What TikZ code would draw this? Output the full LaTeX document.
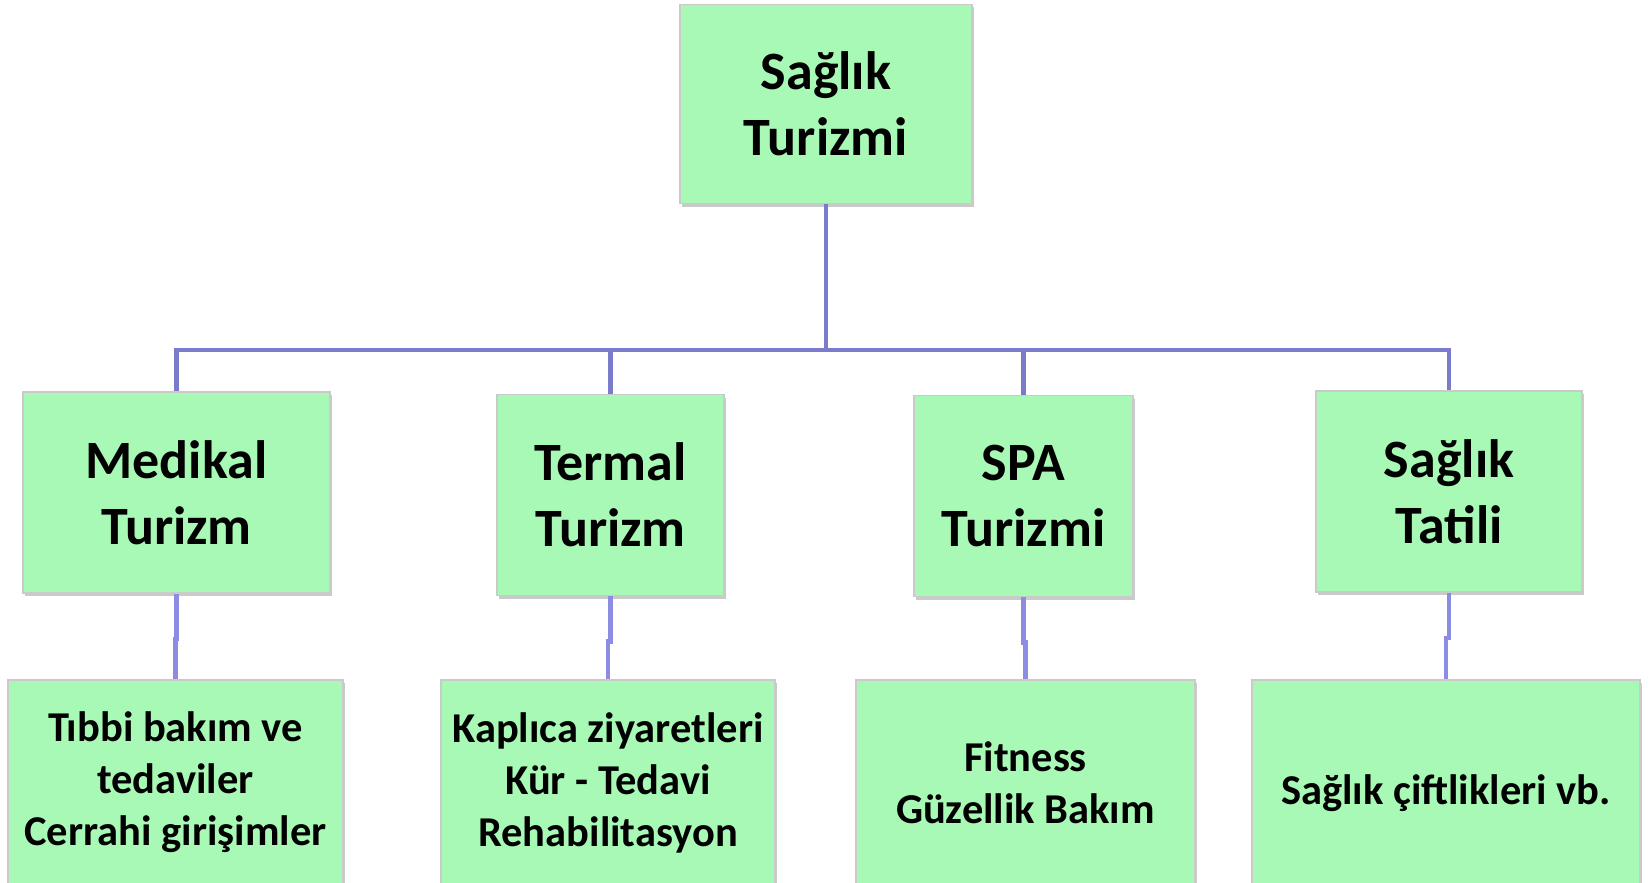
\documentclass[tikz,border=0pt]{standalone}
\usepackage{fontspec}
\setmainfont{Carlito}
\usetikzlibrary{shadows}
\definecolor{BoxGreen}{HTML}{A9F9B6}
\definecolor{BoxEdge}{HTML}{CACACA}
\definecolor{LinkBlue}{HTML}{7B7BCB}
\definecolor{LinkLight}{HTML}{8C8CE3}
\tikzset{
	box/.style={draw=BoxEdge, line width=1.5pt, fill=BoxGreen, align=center, inner sep=0pt,
		font=\fontsize{54}{66}\selectfont\bfseries,
		drop shadow={shadow xshift=2pt, shadow yshift=-3pt, opacity=0.35, fill=black!60}},
	subbox/.style={box, font=\fontsize{42.5}{52}\selectfont\bfseries},
	link/.style={LinkBlue, line width=4.5pt},
	sublink/.style={LinkLight, line width=4.5pt}
}

\begin{document}
\begin{tikzpicture}[x=1pt, y=-1pt]
				\useasboundingbox (0,0) rectangle (1649,883);

				\node[box, minimum width=292pt, minimum height=199pt] (saglik) at (826,104) {Sağlık\\Turizmi};
				\coordinate (bus) at (0,350);

				\foreach \name/\xc/\yc/\boxw/\txt in {medikal/176.5/492.5/307/Medikal\\Turizm, termal/610.5/495/227/Termal\\Turizm, spa/1023.5/496/219/SPA\\Turizmi, tatil/1449/491.5/266/Sağlık\\Tatili} {
					\node[box, minimum width=\boxw pt, minimum height=201pt] (\name) at (\xc,\yc) {\txt};
				}

				\foreach \name/\xc/\boxw/\txt in {tibbi/175.5/335/Tıbbi bakım ve\\tedaviler\\Cerrahi girişimler, kaplica/608/334/Kaplıca ziyaretleri\\Kür - Tedavi\\Rehabilitasyon, fitness/1025.5/339/Fitness\\Güzellik Bakım, ciftlik/1446/388/\mbox{}\\Sağlık çiftlikleri vb.} {
					\node[subbox, minimum width=\boxw pt, minimum height=205pt] (\name) at (\xc,782.5) {\txt};
				}

				\foreach \up/\down in {medikal/tibbi, termal/kaplica, spa/fitness, tatil/ciftlik} {
					\draw[link] (saglik.south) -- (saglik.south |- bus) -| (\up.north);
					\draw[sublink] (\up.south) -- ++(0,45) -| (\down.north);
				}

\end{tikzpicture}
\end{document}
